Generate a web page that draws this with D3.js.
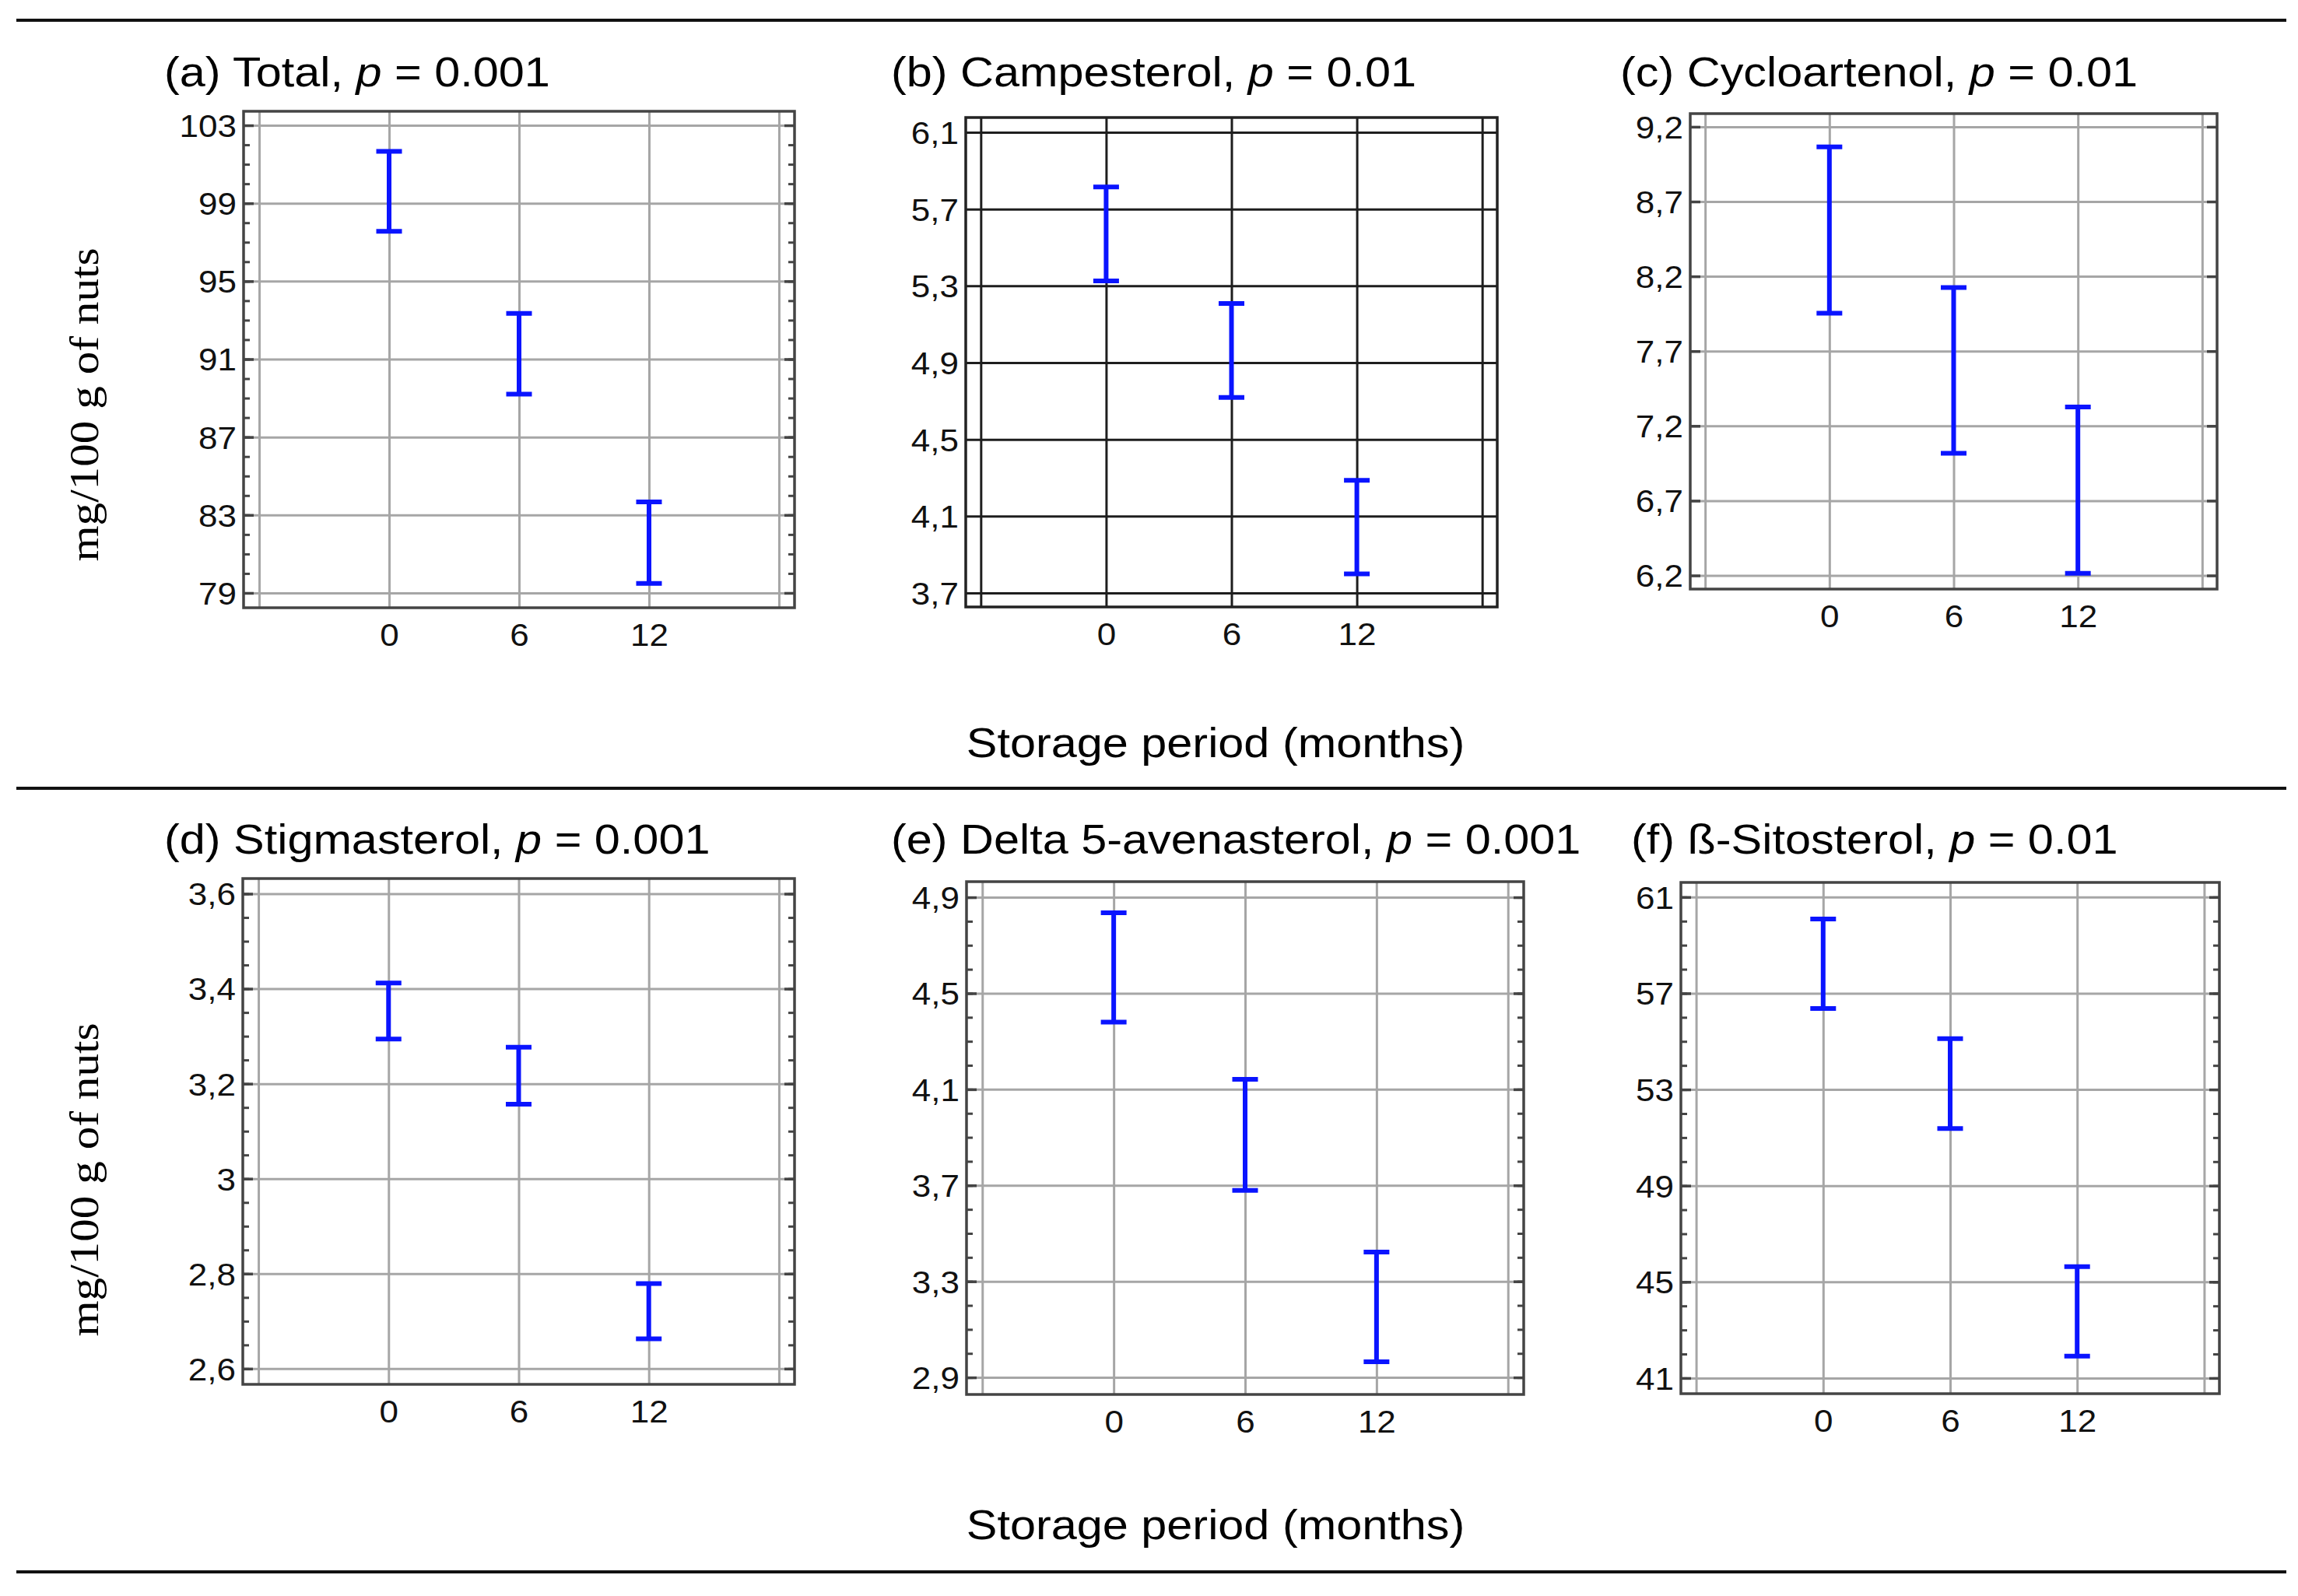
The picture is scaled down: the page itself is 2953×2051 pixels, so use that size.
<!DOCTYPE html>
<html>
<head>
<meta charset="utf-8">
<script src="https://cdn.jsdelivr.net/npm/d3@7"></script>
<style>
  html, body { margin: 0; padding: 0; background: #ffffff; }
</style>
</head>
<body>
<script>
const [width, height] = [2953, 2051];

// storage period (months) of the three groups, and where vertical grid lines sit
const months = [0, 6, 12];
const xGridMonths = [-6, 0, 6, 12, 18];
const xDomain = [-6.72, 18.72];

const titles = ['(a) Total', '(b) Campesterol', '(c) Cycloartenol',
                '(d) Stigmasterol', '(e) Delta 5-avenasterol', '(f) ß-Sitosterol'];
const pValues = ['0.001', '0.01', '0.01', '0.001', '0.001', '0.01'];

// interval bounds, mg/100 g of nuts
const totalLow = [97.56, 89.20, 79.49];
const totalHigh = [101.66, 93.35, 83.67];
const campesterolLow = [5.326, 4.719, 3.799];
const campesterolHigh = [5.815, 5.208, 4.287];
const cycloartenolLow = [7.954, 7.017, 6.215];
const cycloartenolHigh = [9.065, 8.125, 7.326];
const stigmasterolLow = [3.294, 3.157, 2.663];
const stigmasterolHigh = [3.412, 3.277, 2.779];
const avenasterolLow = [4.380, 3.679, 2.965];
const avenasterolHigh = [4.835, 4.142, 3.422];
const sitosterolLow = [56.37, 51.38, 41.91];
const sitosterolHigh = [60.09, 55.11, 45.63];

// y tick values per panel
const totalTicks = [79, 83, 87, 91, 95, 99, 103];
const campesterolTicks = [3.7, 4.1, 4.5, 4.9, 5.3, 5.7, 6.1];
const cycloartenolTicks = [6.2, 6.7, 7.2, 7.7, 8.2, 8.7, 9.2];
const stigmasterolTicks = [2.6, 2.8, 3, 3.2, 3.4, 3.6];
const avenasterolTicks = [2.9, 3.3, 3.7, 4.1, 4.5, 4.9];
const sitosterolTicks = [41, 45, 49, 53, 57, 61];

const totalDomain = [78.24, 103.72];
const campesterolDomain = [3.627, 6.177];
const cycloartenolDomain = [6.109, 9.288];
const stigmasterolDomain = [2.567, 3.632];
const avenasterolDomain = [2.829, 4.965];
const sitosterolDomain = [40.35, 61.61];

const xLabel = 'Storage period (months)';
const yLabel = 'mg/100 g of nuts';

const lows = [totalLow, campesterolLow, cycloartenolLow, stigmasterolLow, avenasterolLow, sitosterolLow];
const highs = [totalHigh, campesterolHigh, cycloartenolHigh, stigmasterolHigh, avenasterolHigh, sitosterolHigh];
const tickSets = [totalTicks, campesterolTicks, cycloartenolTicks, stigmasterolTicks, avenasterolTicks, sitosterolTicks];
const domains = [totalDomain, campesterolDomain, cycloartenolDomain, stigmasterolDomain, avenasterolDomain, sitosterolDomain];

// frame boxes and style of each panel (pixels)
const layout = [
    {left: 313, right: 1021, top: 143, bottom: 781, titleX: 211, titleY: 111, grid: '#a6a6a6', frame: '#444', minor: 1},
    {left: 1241, right: 1924, top: 151, bottom: 780, titleX: 1145, titleY: 111, grid: '#1e1e1e', frame: '#222', minor: null, noTicks: true},
    {left: 2172, right: 2849, top: 146, bottom: 757, titleX: 2082, titleY: 111, grid: '#a6a6a6', frame: '#444', minor: null},
    {left: 312, right: 1021, top: 1129, bottom: 1779, titleX: 211, titleY: 1097, grid: '#a6a6a6', frame: '#444', minor: 0.05},
    {left: 1242, right: 1958, top: 1133, bottom: 1792, titleX: 1145, titleY: 1097, grid: '#a6a6a6', frame: '#444', minor: 0.1},
    {left: 2160, right: 2852, top: 1134, bottom: 1791, titleX: 2096, titleY: 1097, grid: '#a6a6a6', frame: '#444', minor: 1},
];

const sansFont = '"Liberation Sans", Arial, sans-serif';
const serifFont = '"Liberation Serif", "Times New Roman", serif';
const stretch = 1.1;

const commaFormat = d3.formatLocale({decimal: ',', thousands: '.', grouping: [3], currency: ['', '']}).format('~g');

const svg = d3.select('body').append('svg')
    .attr('xmlns', 'http://www.w3.org/2000/svg')
    .attr('width', width)
    .attr('height', height)
    .attr('viewBox', [0, 0, width, height]);

svg.append('rect')
    .attr('width', width)
    .attr('height', height)
    .attr('fill', '#ffffff');

// horizontal rules between the rows
svg.append('g')
    .selectAll('line')
    .data([26, 1013, 2020])
    .join('line')
        .attr('x1', 21)
        .attr('x2', 2938)
        .attr('y1', d => d)
        .attr('y2', d => d)
        .attr('stroke', '#111')
        .attr('stroke-width', 4);

// shared x titles
svg.append('g')
    .selectAll('text')
    .data([973, 1978])
    .join('text')
        .attr('transform', d => `translate(1562,${d}) scale(${stretch},1)`)
        .attr('text-anchor', 'middle')
        .attr('font-family', sansFont)
        .attr('font-size', 54)
        .attr('fill', '#000')
        .text(xLabel);

// y titles, one per row
svg.append('g')
    .selectAll('text')
    .data([520, 1516])
    .join('text')
        .attr('transform', d => `translate(126,${d}) rotate(-90)`)
        .attr('text-anchor', 'middle')
        .attr('font-family', serifFont)
        .attr('font-size', 52)
        .attr('textLength', 403)
        .attr('lengthAdjust', 'spacingAndGlyphs')
        .attr('fill', '#000')
        .text(yLabel);

layout.forEach((box, i) => {
    const g = svg.append('g');
    const innerW = box.right - box.left;
    const innerH = box.bottom - box.top;

    const x = d3.scaleLinear().domain(xDomain).range([box.left, box.right]);
    const y = d3.scaleLinear().domain(domains[i]).range([box.bottom, box.top]);

    // title
    const title = g.append('text')
        .attr('transform', `translate(${box.titleX},${box.titleY}) scale(${stretch},1)`)
        .attr('font-family', sansFont)
        .attr('font-size', 54)
        .attr('fill', '#000');
    title.append('tspan').text(titles[i] + ', ');
    title.append('tspan').attr('font-style', 'italic').text('p');
    title.append('tspan').text(' = ' + pValues[i]);

    // grid
    g.append('g')
        .attr('transform', `translate(${box.left},0)`)
        .call(d3.axisLeft(y).tickValues(tickSets[i]).tickSize(-innerW).tickFormat(''))
        .call(a => a.select('.domain').remove())
        .call(a => a.selectAll('line').attr('stroke', box.grid).attr('stroke-width', 3));

    g.append('g')
        .attr('transform', `translate(0,${box.bottom})`)
        .call(d3.axisBottom(x).tickValues(xGridMonths).tickSize(-innerH).tickFormat(''))
        .call(a => a.select('.domain').remove())
        .call(a => a.selectAll('line').attr('stroke', box.grid).attr('stroke-width', 3));

    // edge ticks, pointing inwards
    if (!box.noTicks) {
        const majorLen = 13;
        g.append('g')
            .attr('transform', `translate(${box.left},0)`)
            .call(d3.axisLeft(y).tickValues(tickSets[i]).tickSize(-majorLen).tickFormat(''))
            .call(a => a.select('.domain').remove())
            .call(a => a.selectAll('line').attr('stroke', '#444').attr('stroke-width', 3.5));
        g.append('g')
            .attr('transform', `translate(${box.right},0)`)
            .call(d3.axisRight(y).tickValues(tickSets[i]).tickSize(-majorLen).tickFormat(''))
            .call(a => a.select('.domain').remove())
            .call(a => a.selectAll('line').attr('stroke', '#444').attr('stroke-width', 3.5));

        if (box.minor) {
            const t = tickSets[i];
            const minorTicks = d3.range(t[0], t[t.length - 1] + box.minor / 2, box.minor);
            g.append('g')
                .attr('transform', `translate(${box.left},0)`)
                .call(d3.axisLeft(y).tickValues(minorTicks).tickSize(-8).tickFormat(''))
                .call(a => a.select('.domain').remove())
                .call(a => a.selectAll('line').attr('stroke', '#444').attr('stroke-width', 3));
            g.append('g')
                .attr('transform', `translate(${box.right},0)`)
                .call(d3.axisRight(y).tickValues(minorTicks).tickSize(-8).tickFormat(''))
                .call(a => a.select('.domain').remove())
                .call(a => a.selectAll('line').attr('stroke', '#444').attr('stroke-width', 3));
        }
    }

    // frame
    g.append('rect')
        .attr('x', box.left)
        .attr('y', box.top)
        .attr('width', innerW)
        .attr('height', innerH)
        .attr('fill', 'none')
        .attr('stroke', box.frame)
        .attr('stroke-width', 3.5);

    // tick labels
    g.append('g')
        .attr('transform', `translate(${box.left},0)`)
        .call(d3.axisLeft(y).tickValues(tickSets[i]).tickSize(0).tickPadding(0).tickFormat(commaFormat))
        .call(a => a.select('.domain').remove())
        .call(a => a.selectAll('text')
            .attr('x', null)
            .attr('dy', '0.36em')
            .attr('transform', `translate(-9,0) scale(${stretch},1)`)
            .attr('font-family', sansFont)
            .attr('font-size', 40)
            .attr('fill', '#111'));

    g.append('g')
        .attr('transform', `translate(0,${box.bottom})`)
        .call(d3.axisBottom(x).tickValues(months).tickSize(0).tickPadding(0).tickFormat(d3.format('d')))
        .call(a => a.select('.domain').remove())
        .call(a => a.selectAll('text')
            .attr('y', null)
            .attr('dy', null)
            .attr('transform', `translate(0,49) scale(${stretch},1)`)
            .attr('font-family', sansFont)
            .attr('font-size', 40)
            .attr('fill', '#111'));

    // interval bars
    const bars = g.append('g')
        .attr('stroke', '#0a14ff')
        .attr('stroke-width', 6)
        .attr('fill', 'none');

    const rows = months.map((m, j) => ({m, lo: lows[i][j], hi: highs[i][j]}));
    const capHalf = 16.5;

    bars.selectAll('line.stem')
        .data(rows)
        .join('line')
            .attr('class', 'stem')
            .attr('x1', d => x(d.m))
            .attr('x2', d => x(d.m))
            .attr('y1', d => y(d.lo))
            .attr('y2', d => y(d.hi));

    bars.selectAll('line.capTop')
        .data(rows)
        .join('line')
            .attr('class', 'capTop')
            .attr('x1', d => x(d.m) - capHalf)
            .attr('x2', d => x(d.m) + capHalf)
            .attr('y1', d => y(d.hi))
            .attr('y2', d => y(d.hi));

    bars.selectAll('line.capBottom')
        .data(rows)
        .join('line')
            .attr('class', 'capBottom')
            .attr('x1', d => x(d.m) - capHalf)
            .attr('x2', d => x(d.m) + capHalf)
            .attr('y1', d => y(d.lo))
            .attr('y2', d => y(d.lo));
});
</script>
</body>
</html>
